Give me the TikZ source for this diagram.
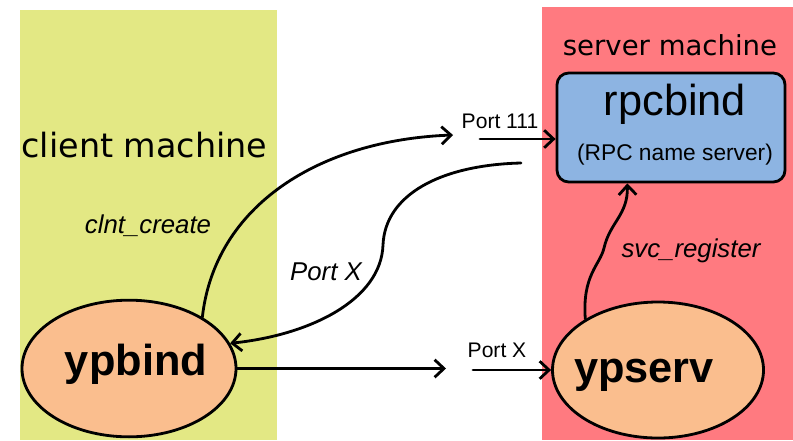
\documentclass[tikz,border=0pt]{standalone}
\usepackage{fontspec}
\setmainfont{Liberation Sans}
\newfontfamily\dejavu{DejaVu Sans}
\usetikzlibrary{arrows.meta,shapes.geometric}
\definecolor{clientbg}{RGB}{227,232,132}
\definecolor{serverbg}{RGB}{255,122,128}
\definecolor{rpcblue}{RGB}{141,180,226}
\definecolor{nodeorange}{RGB}{250,190,142}
\begin{document}
\begin{tikzpicture}[x=0.03cm,y=-0.03cm,
  conn/.style={line width=2.4pt, line cap=round,
    -{Straight Barb[length=8pt,width=15pt,line width=2.4pt]}},
  machinelbl/.style={font=\dejavu\fontsize{#1}{#1}\selectfont, anchor=base, inner sep=0pt},
  proc/.style={ellipse, draw, line width=2.4pt, fill=nodeorange, inner sep=0pt},
  proclbl/.style={font=\bfseries\fontsize{37}{37}\selectfont, anchor=base, inner sep=0pt},
  portlbl/.style={font=\fontsize{18}{18}\selectfont, anchor=base, inner sep=0pt},
  calllbl/.style={font=\itshape\fontsize{22}{22}\selectfont, anchor=base, inner sep=0pt}]
\useasboundingbox (0,0) rectangle (793,440);
\fill[white] (0,0) rectangle (793,440);
% machine regions
\fill[clientbg] (20,10) rectangle (277,440);
\fill[serverbg] (542,7) rectangle (793,440);
\node[machinelbl=28.5] (cm) at (144.5,157) {client machine};
\node[machinelbl=23.5] (sm) at (670,55) {server machine};
% rpcbind
\node[draw, line width=2.4pt, rounded corners=10pt, fill=rpcblue,
      minimum width=6.84cm, minimum height=3.27cm] (rpc) at (671,127.5) {};
\node[font=\fontsize{37}{37}\selectfont, anchor=base, inner sep=0pt] (rpctxt) at (675,115) {rpcbind};
\node[font=\fontsize{19.4}{19.4}\selectfont, anchor=base, inner sep=0pt] (rpcsub) at (675,160) {(RPC name server)};
% processes
\node[proc, minimum width=6.42cm, minimum height=4.1cm] (ypbind) at (129,368.5) {};
\node[proclbl] (ypbindtxt) at (136,375) {ypbind};
\node[proc, minimum width=6.33cm, minimum height=4.08cm] (ypserv) at (658,370) {};
\node[proclbl] (ypservtxt) at (644,382) {ypserv};
% connectors
\coordinate (a1) at (453,135);
\draw[conn] (ypbind.35) .. controls (215,205) and (320,140) .. (a1);
\coordinate (b1) at (480,139);
\draw[conn] (b1) -- (b1 -| rpc.west);
\coordinate (c1) at (521,163);
\draw[conn] (c1) .. controls (440,165) and (385,195) .. (383,245)
               .. controls (381,300) and (310,335) .. (ypbind.14);
\coordinate (d1) at (446,368.5);
\draw[conn] (ypbind.east) -- (d1);
\coordinate (e1) at (473,370);
\draw[conn] (e1) -- (ypserv.west);
\draw[conn] (ypserv.145) .. controls (582,275) and (600,265) .. (604,248)
               .. controls (610,222) and (628,215) .. (rpc.-128);
% labels
\node[portlbl] (p111) at (500,128) {Port 111};
\node[portlbl] (pxb) at (497,357) {Port X};
\node[calllbl] (pxm) at (326,280) {Port X};
\node[calllbl] (clnt) at (148,233) {clnt\_create};
\node[calllbl] (svc) at (691,257) {svc\_register};
\end{tikzpicture}
\end{document}
